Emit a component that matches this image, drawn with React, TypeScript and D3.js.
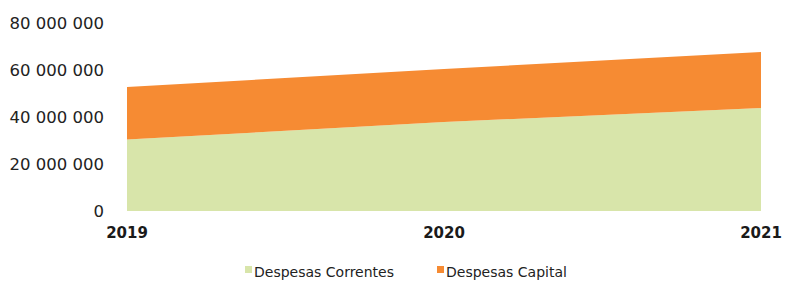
import React, { useEffect, useRef } from 'react';
import * as d3 from 'd3';

const years = ['2019', '2020', '2021'];
const correntes = [30400000, 37900000, 43800000];
const capital = [22400000, 22500000, 23900000];
const yTicks = [0, 20000000, 40000000, 60000000, 80000000];
const seriesNames = ['Despesas Correntes', 'Despesas Capital'];
const seriesColors = ['#d8e5aa', '#f68b33'];

const App = () => {
  const chartRef = useRef<SVGSVGElement>(null);

  useEffect(() => {
    drawChart();
  }, []);

  const drawChart = () => {
    const width = 785;
    const height = 281;
    const svg = d3.select(chartRef.current);
    svg.selectAll('*').remove();
    svg.attr('width', width).attr('height', height);

    const data = years.map((year, i) => ({
      year,
      correntes: correntes[i],
      capital: capital[i]
    }));

    const x = d3.scalePoint().domain(years).range([127, 761]);
    const y = d3.scaleLinear().domain([0, 80000000]).range([211, 23]);

    const stack = d3.stack<any>().keys(['correntes', 'capital']);
    const layers = stack(data);

    const area = d3
      .area<any>()
      .x(d => x(d.data.year)!)
      .y0(d => y(d[0]))
      .y1(d => y(d[1]));

    svg
      .selectAll('.layer')
      .data(layers)
      .enter()
      .append('path')
      .attr('class', 'layer')
      .attr('d', area)
      .attr('fill', (d, i) => seriesColors[i]);

    const fmt = d3.formatLocale({
      decimal: ',',
      thousands: ' ',
      grouping: [3],
      currency: ['', '']
    }).format(',d');

    svg
      .append('g')
      .selectAll('text')
      .data(yTicks)
      .enter()
      .append('text')
      .attr('x', 104)
      .attr('y', d => y(d))
      .attr('dy', '0.36em')
      .attr('text-anchor', 'end')
      .attr('font-family', 'DejaVu Sans')
      .attr('font-size', 16.5)
      .attr('fill', '#222')
      .text(d => fmt(d));

    svg
      .append('g')
      .selectAll('text')
      .data(years)
      .enter()
      .append('text')
      .attr('x', d => x(d)!)
      .attr('y', 238)
      .attr('text-anchor', 'middle')
      .attr('font-family', 'DejaVu Sans')
      .attr('font-weight', 'bold')
      .attr('font-size', 15)
      .attr('fill', '#1a1a1a')
      .text(d => d);

    const legendX = [245, 437];
    const legend = svg
      .append('g')
      .selectAll('g')
      .data(seriesNames)
      .enter()
      .append('g')
      .attr('transform', (d, i) => `translate(${legendX[i]},0)`);

    legend
      .append('rect')
      .attr('x', 0)
      .attr('y', 266)
      .attr('width', 7)
      .attr('height', 7)
      .attr('fill', (d, i) => seriesColors[i]);

    legend
      .append('text')
      .attr('x', 9)
      .attr('y', 277)
      .attr('font-family', 'DejaVu Sans')
      .attr('font-size', 14)
      .attr('fill', '#222')
      .text(d => d);
  };

  return (
    <div style={{ position: 'absolute', left: 0, top: 0 }}>
      <svg ref={chartRef}></svg>
    </div>
  );
};

export default App;
